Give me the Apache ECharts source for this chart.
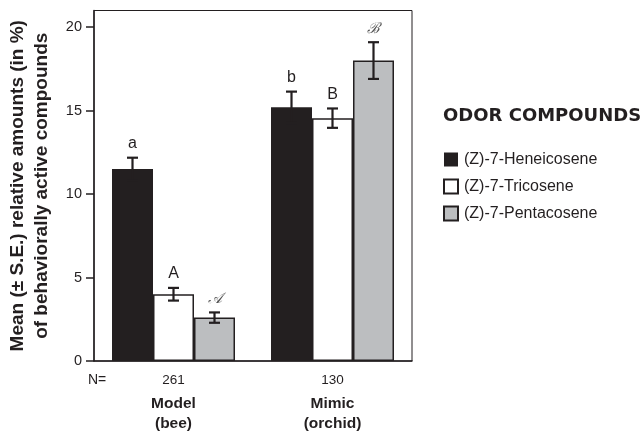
<!DOCTYPE html>
<html><head><meta charset="utf-8">
<script src="https://cdn.jsdelivr.net/npm/echarts@6/dist/echarts.min.js"></script>
<style>html,body{margin:0;padding:0;background:#fff}#c{width:644px;height:434px}</style>
</head><body><div id="c"></div>
<script>
const categories = ['Model', 'Mimic'];
const subLabels = ['(bee)', '(orchid)'];
const sampleN = ['261', '130'];
const seriesNames = ['(Z)-7-Heneicosene', '(Z)-7-Tricosene', '(Z)-7-Pentacosene'];
const heneicosene = [11.5, 15.2];
const tricosene = [4.0, 14.55];
const pentacosene = [2.6, 18.0];
const heneicoseneSE = [0.68, 0.94];
const tricoseneSE = [0.38, 0.58];
const pentacoseneSE = [0.31, 1.1];
const heneicoseneLetters = ['a', 'b'];
const tricoseneLetters = ['A', 'B'];
const pentacoseneLetters = ['\u{1D49C}', '\u212C'];
const yTicks = [0, 5, 10, 15, 20];

const dark = '#231f20';
const colors = ['#231f20', '#ffffff', '#bcbec0'];
const BW = 41;
const values = [heneicosene, tricosene, pentacosene];
const ses = [heneicoseneSE, tricoseneSE, pentacoseneSE];
const letters = [heneicoseneLetters, tricoseneLetters, pentacoseneLetters];

const chart = echarts.init(document.getElementById('c'));
const series = [];
for (let s = 0; s < 3; s++) {
  series.push({
    name: seriesNames[s], type: 'bar', barWidth: BW, barGap: '0%',
    data: values[s],
    itemStyle: { color: colors[s], borderColor: dark, borderWidth: s === 0 ? 0 : 1.5 },
    z: 2
  });
}
for (let s = 0; s < 3; s++) {
  const data = values[s].map((v, i) => [i, v, ses[s][i], letters[s][i]]);
  series.push({
    type: 'custom', silent: true, z: 5,
    data: data,
    renderItem: function (params, api) {
      const i = api.value(0), v = api.value(1), se = api.value(2);
      const base = api.coord([i, v]);
      const x = base[0] + (s - 1) * BW;
      const top = api.coord([i, v + se])[1];
      const bot = api.coord([i, v - se])[1];
      const cap = 5.5;
      const ls = { stroke: dark, lineWidth: 2.2 };
      return { type: 'group', children: [
        { type: 'line', shape: { x1: x, y1: top, x2: x, y2: bot }, style: ls },
        { type: 'line', shape: { x1: x - cap, y1: top, x2: x + cap, y2: top }, style: ls },
        { type: 'line', shape: { x1: x - cap, y1: bot, x2: x + cap, y2: bot }, style: ls },
        { type: 'text', x: x, y: top - 6, style: {
            text: data[i][3], fill: s === 2 ? '#555' : dark, align: 'center', verticalAlign: 'bottom',
            font: (s === 2 ? 'italic 15px "DejaVu Serif"' : '16px "Liberation Sans"') } }
      ]};
    }
  });
}

chart.setOption({
  animation: false,
  grid: { left: 94, right: 232, top: 10.5, bottom: 73, show: true, borderColor: dark, borderWidth: 1 },
  legend: {
    data: seriesNames, orient: 'vertical', left: 438, top: 146,
    itemWidth: 14, itemHeight: 14, itemGap: 10, icon: 'rect',
    textStyle: { fontFamily: 'Liberation Sans', fontSize: 16, lineHeight: 17, color: dark, padding: [0, 0, 0, 1] }
  },
  title: {
    text: 'ODOR COMPOUNDS', left: 438, top: 102,
    textStyle: { fontFamily: 'DejaVu Sans', fontWeight: 900, fontSize: 18, color: dark }
  },
  graphic: [{ type: 'text', left: 88, top: 373, style: { text: 'N=', font: '14px "Liberation Sans"', fill: dark } }],
  xAxis: {
    type: 'category', data: categories,
    axisLine: { lineStyle: { color: dark, width: 1.5 } },
    axisTick: { alignWithLabel: true, length: 7, lineStyle: { color: dark, width: 1.5 } },
    axisLabel: {
      margin: 6, color: dark, fontFamily: 'Liberation Sans',
      formatter: (v, idx) => sampleN[idx] + '\n{b|' + v + '}\n{b|' + subLabels[idx] + '}',
      fontSize: 13.5, lineHeight: 27,
      rich: { b: { fontWeight: 'bold', fontSize: 15.5, lineHeight: 19.5, fontFamily: 'Liberation Sans', color: dark } }
    }
  },
  yAxis: {
    type: 'value', min: 0, max: 21,
    splitLine: { show: false },
    axisLine: { show: true, lineStyle: { color: dark, width: 1.5 } },
    axisTick: { show: true, length: 8, customValues: yTicks, lineStyle: { color: dark, width: 1.5 } },
    axisLabel: { customValues: yTicks, color: dark, fontFamily: 'Liberation Sans', fontSize: 14.5, margin: 12 },
    name: 'Mean (\u00B1 S.E.) relative amounts (in %)\nof behaviorally active compounds',
    nameLocation: 'middle', nameGap: 40,
    nameTextStyle: { fontFamily: 'Liberation Sans', fontWeight: 'bold', fontSize: 19, lineHeight: 24, color: dark }
  },
  series: series
});
</script></body></html>
